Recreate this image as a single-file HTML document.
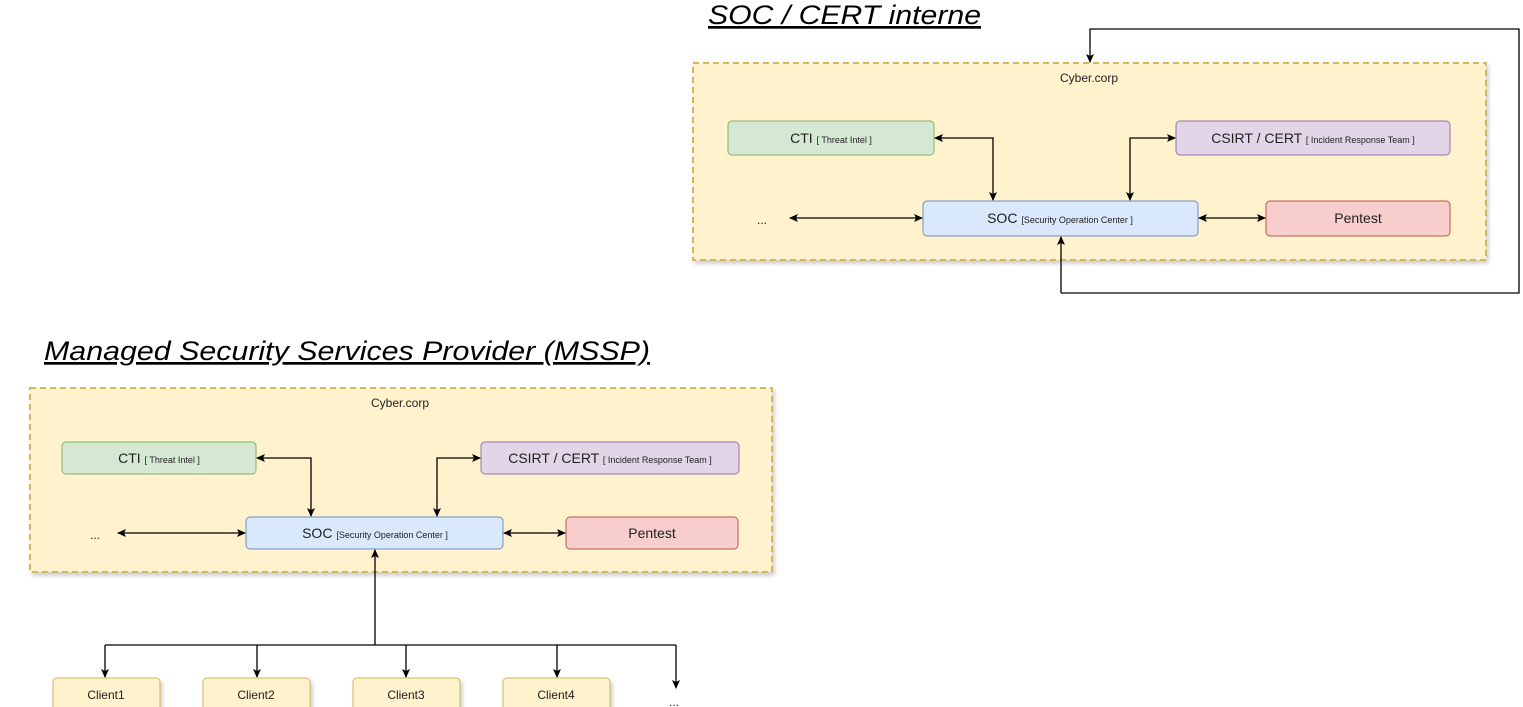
<!DOCTYPE html>
<html><head><meta charset="utf-8"><style>
html,body{margin:0;padding:0;background:#fff;width:1523px;height:707px;overflow:hidden}
svg{display:block}
text{font-family:"Liberation Sans",sans-serif;fill:#222}
</style></head><body>
<svg width="1523" height="707" viewBox="0 0 1523 707" xmlns="http://www.w3.org/2000/svg">
<defs>
<marker id="a" markerWidth="10" markerHeight="10" refX="8" refY="5" orient="auto-start-reverse" markerUnits="userSpaceOnUse"><path d="M0,1 L9,5 L0,9 L2,5 Z" fill="#000"/></marker>
<filter id="sh" x="-5%" y="-5%" width="110%" height="115%"><feDropShadow dx="2" dy="3" stdDeviation="2" flood-color="#000" flood-opacity="0.2"/></filter>
</defs>

<!-- TOP -->
<text x="708" y="24" font-size="27" font-style="italic" text-decoration="underline" textLength="273" lengthAdjust="spacingAndGlyphs" style="fill:#000">SOC / CERT interne</text>
<rect x="693" y="63" width="793" height="197" fill="#fff2cc" stroke="#d6b656" stroke-width="2" stroke-dasharray="6,4" filter="url(#sh)"/>
<text x="1089" y="82" font-size="12" text-anchor="middle">Cyber.corp</text>
<rect x="728" y="121" width="206" height="34" rx="4" fill="#d5e8d4" stroke="#82b366"/>
<text x="831" y="143" font-size="14" text-anchor="middle">CTI <tspan font-size="9">[ Threat Intel ]</tspan></text>
<rect x="1176" y="121" width="274" height="34" rx="4" fill="#e1d5e7" stroke="#9673a6"/>
<text x="1313" y="143" font-size="14" text-anchor="middle">CSIRT / CERT <tspan font-size="9">[ Incident Response Team ]</tspan></text>
<rect x="923" y="201" width="275" height="35" rx="4" fill="#dae8fc" stroke="#6c8ebf"/>
<text x="1060" y="223" font-size="14" text-anchor="middle">SOC <tspan font-size="9">[Security Operation Center ]</tspan></text>
<rect x="1266" y="201" width="184" height="35" rx="4" fill="#f8cecc" stroke="#b85450"/>
<text x="1358" y="223" font-size="14" text-anchor="middle">Pentest</text>
<text x="762" y="224" font-size="12" text-anchor="middle">...</text>
<g stroke="#000" stroke-width="1.3" fill="none">
<path d="M790,218 L922,218" marker-start="url(#a)" marker-end="url(#a)"/>
<path d="M935,138 L993,138 L993,200" marker-start="url(#a)" marker-end="url(#a)"/>
<path d="M1175,138 L1130,138 L1130,200" marker-start="url(#a)" marker-end="url(#a)"/>
<path d="M1199,218 L1265,218" marker-start="url(#a)" marker-end="url(#a)"/>
<path d="M1061,293 L1519,293 L1519,29 L1090,29 L1090,62" marker-end="url(#a)"/>
<path d="M1061,293 L1061,237" marker-end="url(#a)"/>
</g>

<!-- BOTTOM -->
<text x="44" y="360" font-size="27" font-style="italic" text-decoration="underline" textLength="606" lengthAdjust="spacingAndGlyphs" style="fill:#000">Managed Security Services Provider (MSSP)</text>
<rect x="30" y="388" width="742" height="184" fill="#fff2cc" stroke="#d6b656" stroke-width="2" stroke-dasharray="6,4" filter="url(#sh)"/>
<text x="400" y="407" font-size="12" text-anchor="middle">Cyber.corp</text>
<rect x="62" y="442" width="194" height="32" rx="4" fill="#d5e8d4" stroke="#82b366"/>
<text x="159" y="463" font-size="14" text-anchor="middle">CTI <tspan font-size="9">[ Threat Intel ]</tspan></text>
<rect x="481" y="442" width="258" height="32" rx="4" fill="#e1d5e7" stroke="#9673a6"/>
<text x="610" y="463" font-size="14" text-anchor="middle">CSIRT / CERT <tspan font-size="9">[ Incident Response Team ]</tspan></text>
<rect x="246" y="517" width="257" height="32" rx="4" fill="#dae8fc" stroke="#6c8ebf"/>
<text x="375" y="538" font-size="14" text-anchor="middle">SOC <tspan font-size="9">[Security Operation Center ]</tspan></text>
<rect x="566" y="517" width="172" height="32" rx="4" fill="#f8cecc" stroke="#b85450"/>
<text x="652" y="538" font-size="14" text-anchor="middle">Pentest</text>
<text x="95" y="539" font-size="12" text-anchor="middle">...</text>
<g stroke="#000" stroke-width="1.3" fill="none">
<path d="M118,533 L245,533" marker-start="url(#a)" marker-end="url(#a)"/>
<path d="M257,458 L311,458 L311,516" marker-start="url(#a)" marker-end="url(#a)"/>
<path d="M480,458 L437,458 L437,516" marker-start="url(#a)" marker-end="url(#a)"/>
<path d="M504,533 L565,533" marker-start="url(#a)" marker-end="url(#a)"/>
<path d="M375,645 L375,550" marker-end="url(#a)"/>
<path d="M105,645 L676,645"/>
<path d="M105,645 L105,677" marker-end="url(#a)"/>
<path d="M257,645 L257,677" marker-end="url(#a)"/>
<path d="M406,645 L406,677" marker-end="url(#a)"/>
<path d="M557,645 L557,677" marker-end="url(#a)"/>
<path d="M676,645 L676,688" marker-end="url(#a)"/>
</g>
<g fill="#fff2cc" stroke="#d6b656" filter="url(#sh)">
<rect x="53" y="678" width="107" height="40" rx="4"/>
<rect x="203" y="678" width="107" height="40" rx="4"/>
<rect x="353" y="678" width="107" height="40" rx="4"/>
<rect x="503" y="678" width="107" height="40" rx="4"/>
</g>
<text x="106" y="699" font-size="12" text-anchor="middle">Client1</text>
<text x="256" y="699" font-size="12" text-anchor="middle">Client2</text>
<text x="406" y="699" font-size="12" text-anchor="middle">Client3</text>
<text x="556" y="699" font-size="12" text-anchor="middle">Client4</text>
<text x="674" y="706" font-size="12" text-anchor="middle">...</text>
</svg>
</body></html>
